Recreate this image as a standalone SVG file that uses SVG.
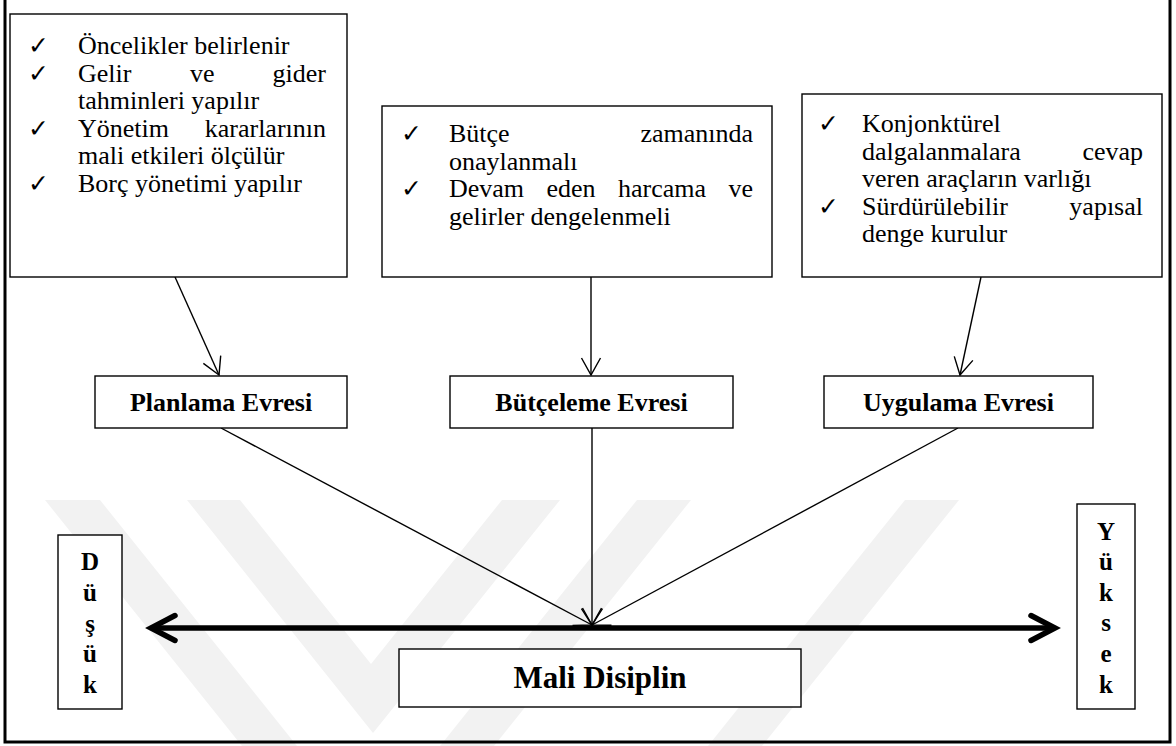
<svg xmlns="http://www.w3.org/2000/svg" width="1176" height="746" viewBox="0 0 1176 746">
<style>
.box{fill:#fff;stroke:#000;stroke-width:1.4}
.t{font-family:"Liberation Serif","Times New Roman",serif;font-size:26px;fill:#000}
.b{font-family:"Liberation Serif","Times New Roman",serif;font-weight:bold;fill:#000}
.ck{font-family:"DejaVu Sans",sans-serif;font-size:25px;fill:#000}
.ln{fill:none;stroke:#000;stroke-width:1.4}
.wm{fill:#f2f2f2}
</style>
<defs>
<marker id="open" markerUnits="userSpaceOnUse" markerWidth="22" markerHeight="24" viewBox="-20 -12 22 24" refX="0" refY="0" orient="auto">
<path d="M-17,-9.5 L0,0 L-17,9.5" fill="none" stroke="#000" stroke-width="1.4"/>
</marker>
<marker id="big" markerUnits="userSpaceOnUse" markerWidth="36" markerHeight="34" viewBox="-30 -17 36 34" refX="0" refY="0" orient="auto-start-reverse">
<path d="M-24,-12.5 L0,0 L-24,12.5" fill="none" stroke="#000" stroke-width="5.5" stroke-linecap="round" stroke-linejoin="miter"/>
</marker>
</defs>
<rect width="1176" height="746" fill="#fff"/>
<g id="watermark">
<polygon class="wm" points="45,500 100,500 297,746 242,746"/>
<polygon class="wm" points="187,500 240,500 371,664 502,500 560,500 373,733"/>
<polygon class="wm" points="637,500 691,500 494,746 440,746"/>
<polygon class="wm" points="905,500 959,500 762,746 708,746"/>
</g>
<rect id="frame" x="5" y="-5" width="1165" height="747" fill="none" stroke="#000" stroke-width="3"/>
<g id="connectors">
<line class="ln" x1="175" y1="277" x2="219" y2="375" marker-end="url(#open)"/>
<line class="ln" x1="591" y1="277" x2="591" y2="375" marker-end="url(#open)"/>
<line class="ln" x1="981" y1="277" x2="960" y2="375" marker-end="url(#open)"/>
<line class="ln" x1="221" y1="428" x2="592" y2="625" marker-end="url(#open)"/>
<line class="ln" x1="592" y1="428" x2="592" y2="625" marker-end="url(#open)"/>
<line class="ln" x1="958" y1="428" x2="592" y2="625" marker-end="url(#open)"/>
<line x1="151" y1="628" x2="1055" y2="628" stroke="#000" stroke-width="5.5" marker-start="url(#big)" marker-end="url(#big)"/>
</g>
<g id="box1">
<rect class="box" x="10" y="14" width="337" height="263"/>
<text class="ck" x="28" y="54">✓</text>
<text class="ck" x="28" y="81.5">✓</text>
<text class="ck" x="28" y="136.5">✓</text>
<text class="ck" x="28" y="191.5">✓</text>
<text class="t" x="78" y="54">Öncelikler belirlenir</text>
<text class="t" x="78" y="81.5">Gelir</text>
<text class="t" x="190" y="81.5">ve</text>
<text class="t" x="326" y="81.5" text-anchor="end">gider</text>
<text class="t" x="78" y="109">tahminleri yapılır</text>
<text class="t" x="78" y="136.5">Yönetim</text>
<text class="t" x="326" y="136.5" text-anchor="end">kararlarının</text>
<text class="t" x="78" y="164">mali etkileri ölçülür</text>
<text class="t" x="78" y="191.5">Borç yönetimi yapılır</text>
</g>
<g id="box2">
<rect class="box" x="382" y="106" width="390" height="171"/>
<text class="ck" x="401" y="142">✓</text>
<text class="ck" x="401" y="197">✓</text>
<text class="t" x="449" y="142">Bütçe</text>
<text class="t" x="753" y="142" text-anchor="end">zamanında</text>
<text class="t" x="449" y="169.5">onaylanmalı</text>
<text class="t" x="449" y="197">Devam</text>
<text class="t" x="546.5" y="197">eden</text>
<text class="t" x="618" y="197">harcama</text>
<text class="t" x="753" y="197" text-anchor="end">ve</text>
<text class="t" x="449" y="224.5">gelirler dengelenmeli</text>
</g>
<g id="box3">
<rect class="box" x="802" y="94" width="360" height="183"/>
<text class="ck" x="818" y="132">✓</text>
<text class="ck" x="818" y="214.5">✓</text>
<text class="t" x="862" y="132">Konjonktürel</text>
<text class="t" x="862" y="159.5">dalgalanmalara</text>
<text class="t" x="1143" y="159.5" text-anchor="end">cevap</text>
<text class="t" x="862" y="187">veren araçların varlığı</text>
<text class="t" x="862" y="214.5">Sürdürülebilir</text>
<text class="t" x="1143" y="214.5" text-anchor="end">yapısal</text>
<text class="t" x="862" y="242">denge kurulur</text>
</g>
<g id="planlama">
<rect class="box" x="95" y="376" width="252" height="52"/>
<text class="b" x="221" y="411" font-size="26" text-anchor="middle">Planlama Evresi</text>
</g>
<g id="butceleme">
<rect class="box" x="450" y="376" width="283" height="52"/>
<text class="b" x="591.5" y="411" font-size="26" text-anchor="middle">Bütçeleme Evresi</text>
</g>
<g id="uygulama">
<rect class="box" x="824" y="376" width="269" height="52"/>
<text class="b" x="958.5" y="411" font-size="26" text-anchor="middle">Uygulama Evresi</text>
</g>
<g id="dusuk">
<rect class="box" x="58" y="535" width="64" height="174"/>
<text class="b" font-size="25" text-anchor="middle"><tspan x="90" y="570">D</tspan><tspan x="90" y="601">ü</tspan><tspan x="90" y="632">ş</tspan><tspan x="90" y="662">ü</tspan><tspan x="90" y="693">k</tspan></text>
</g>
<g id="yuksek">
<rect class="box" x="1077" y="504" width="58" height="205"/>
<text class="b" font-size="25" text-anchor="middle"><tspan x="1106" y="540">Y</tspan><tspan x="1106" y="570">ü</tspan><tspan x="1106" y="601">k</tspan><tspan x="1106" y="631">s</tspan><tspan x="1106" y="662">e</tspan><tspan x="1106" y="693">k</tspan></text>
</g>
<g id="mali">
<rect class="box" x="399" y="649" width="402" height="58"/>
<text class="b" x="600" y="688" font-size="31" text-anchor="middle">Mali Disiplin</text>
</g>
</svg>
